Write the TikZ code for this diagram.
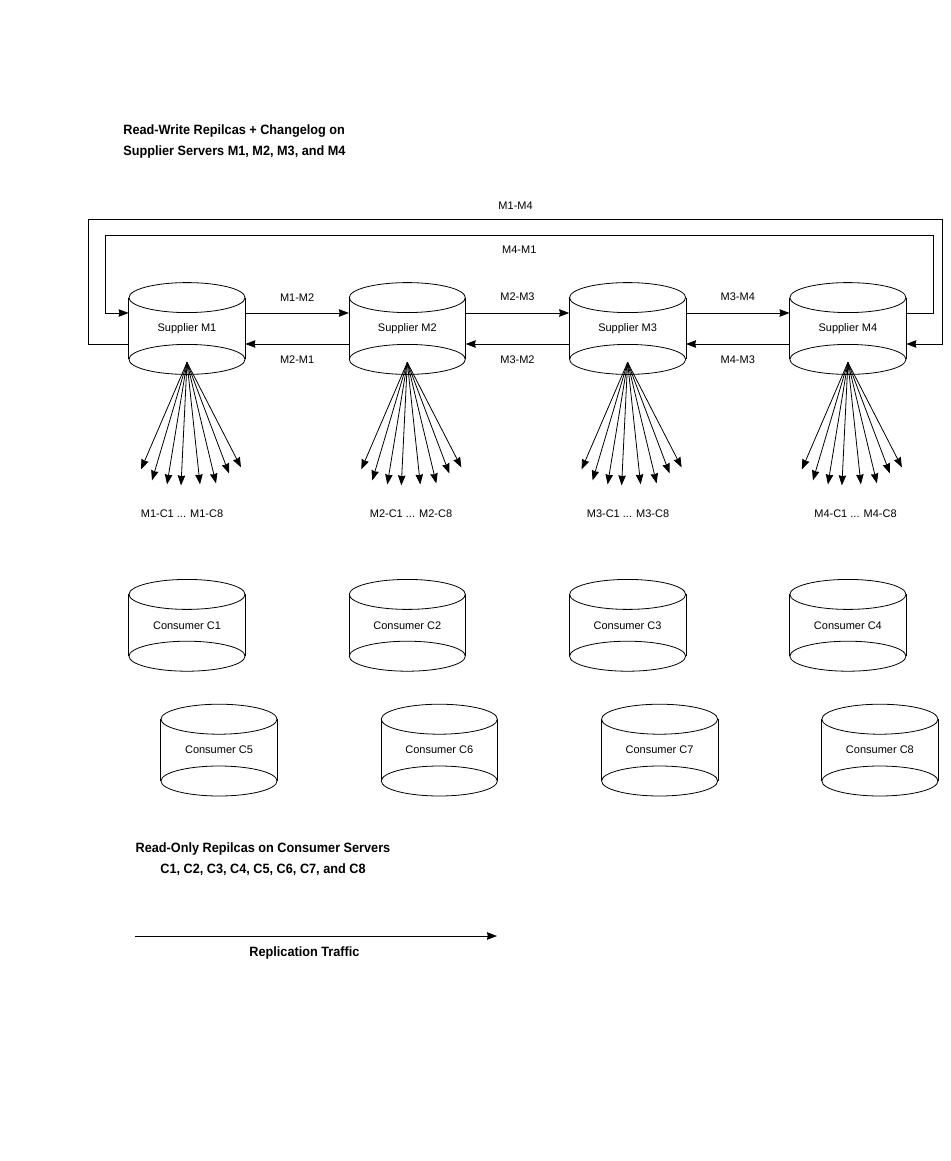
\documentclass[tikz,border=0pt]{standalone}
\usepackage{fontspec}
\setmainfont{Liberation Sans}
\newfontfamily\headfont[FakeStretch=0.94]{Liberation Sans}
\usepackage{tikz}
\usetikzlibrary{arrows.meta, positioning}
\tikzstyle{db}    = [rectangle, minimum width=116pt, minimum height=61pt, inner sep=0pt, font=\fontsize{11}{12}\selectfont]
\tikzstyle{arrow} = [line width=0.8pt, -{Stealth[length=10pt, width=7.5pt, inset=0.8pt]}]
\tikzstyle{lbl}   = [font=\fontsize{11}{12}\selectfont, inner sep=1pt]
\tikzstyle{head}  = [font=\headfont\bfseries\fontsize{13.5}{21}\selectfont, inner sep=0pt]

\begin{document}
\begin{tikzpicture}[x=1pt, y=-1pt, node distance=103.5pt, line width=0.8pt]
    \useasboundingbox (0,0) rectangle (950,1161);

    % supplier servers
    \node (m1) [db] at (187,328.5) {Supplier M1};
    \node (m2) [db, right=of m1]  {Supplier M2};
    \node (m3) [db, right=of m2]  {Supplier M3};
    \node (m4) [db, right=of m3]  {Supplier M4};

    % consumer servers
    \node (c1) [db, below=235pt of m1] {Consumer C1};
    \node (c2) [db, below=235pt of m2] {Consumer C2};
    \node (c3) [db, below=235pt of m3] {Consumer C3};
    \node (c4) [db, below=235pt of m4] {Consumer C4};
    \node (c5) [db, below=63pt of c1, xshift=32pt] {Consumer C5};
    \node (c6) [db, below=63pt of c2, xshift=32pt] {Consumer C6};
    \node (c7) [db, below=63pt of c3, xshift=32pt] {Consumer C7};
    \node (c8) [db, below=63pt of c4, xshift=32pt] {Consumer C8};

    % cylinder outlines
    \foreach \n in {m1,m2,m3,m4,c1,c2,c3,c4,c5,c6,c7,c8} {
        \draw (\n.north west) -- (\n.south west) (\n.north east) -- (\n.south east);
        \draw (\n.north) ellipse [x radius=58, y radius=15];
        \draw (\n.south) ellipse [x radius=58, y radius=15];
    }

    % neighbour replication
    \draw [arrow] ([yshift=15.5pt]m1.east)  -- node[lbl, above=10.5pt]{M1-M2} ([yshift=15.5pt]m2.west);
    \draw [arrow] ([yshift=-15.5pt]m2.west) -- node[lbl, below=10pt]{M2-M1}   ([yshift=-15.5pt]m1.east);
    \draw [arrow] ([yshift=15.5pt]m2.east)  -- node[lbl, above=10.5pt]{M2-M3} ([yshift=15.5pt]m3.west);
    \draw [arrow] ([yshift=-15.5pt]m3.west) -- node[lbl, below=10pt]{M3-M2}   ([yshift=-15.5pt]m2.east);
    \draw [arrow] ([yshift=15.5pt]m3.east)  -- node[lbl, above=10.5pt]{M3-M4} ([yshift=15.5pt]m4.west);
    \draw [arrow] ([yshift=-15.5pt]m4.west) -- node[lbl, below=10pt]{M4-M3}   ([yshift=-15.5pt]m3.east);

    % loops between M1 and M4
    \draw [arrow] ([yshift=-15.5pt]m1.west) -- ++(-40,0)
        |- node[lbl, pos=0.75, above=8pt]{M1-M4} ++(854,-125)
        |- ([yshift=-15.5pt]m4.east);
    \draw [arrow] ([yshift=15.5pt]m4.east) -- ++(27,0)
        |- node[lbl, pos=0.75, below=10pt]{M4-M1} ++(-828,-78)
        |- ([yshift=15.5pt]m1.west);

    % fan out to consumers
    \foreach \s in {m1,m2,m3,m4} {
        \foreach \dx/\dy [count=\i] in {-46/107, -35/118, -20/122, -6/123, 13/122, 29/121, 42/111, 54/105} {
            \path ([yshift=-3pt]\s.south) ++(\dx,\dy) coordinate (\s-\i);
            \draw [arrow] ([yshift=-3pt]\s.south) -- (\s-\i);
        }
    }
    \node (f1) [lbl] at (182,514)   {M1-C1 ... M1-C8};
    \node (f2) [lbl] at (411,514)   {M2-C1 ... M2-C8};
    \node (f3) [lbl] at (628,514)   {M3-C1 ... M3-C8};
    \node (f4) [lbl] at (855.5,514) {M4-C1 ... M4-C8};

    % captions
    \node (top) [head, anchor=west, align=left] at (123,141.5) {Read-Write Repilcas + Changelog on\\Supplier Servers M1, M2, M3, and M4};
    \node (bot) [head, align=center] at (263,859) {Read-Only Repilcas on Consumer Servers\\C1, C2, C3, C4, C5, C6, C7, and C8};

    % legend
    \coordinate (leg-a) at (135,936);
    \coordinate (leg-b) at (497,936);
    \draw [arrow] (leg-a) -- node[head, pos=0.468, below=10pt]{Replication Traffic} (leg-b);
\end{tikzpicture}
\end{document}
